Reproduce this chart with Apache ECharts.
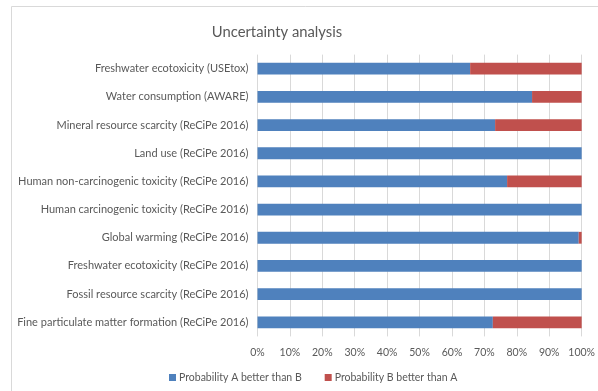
<!DOCTYPE html>
<html>
<head>
<meta charset="utf-8">
<script src="https://cdn.jsdelivr.net/npm/echarts@6/dist/echarts.min.js"></script>
<style>
  html, body { margin: 0; padding: 0; background: #fff; overflow: hidden; }
  #chart { width: 598px; height: 391px; }
</style>
</head>
<body>
<div id="chart"></div>
<script>
// Impact categories, listed top to bottom
const categories = [
  'Freshwater ecotoxicity (USEtox)',
  'Water consumption (AWARE)',
  'Mineral resource scarcity (ReCiPe 2016)',
  'Land use (ReCiPe 2016)',
  'Human non-carcinogenic toxicity (ReCiPe 2016)',
  'Human carcinogenic toxicity (ReCiPe 2016)',
  'Global warming (ReCiPe 2016)',
  'Freshwater ecotoxicity (ReCiPe 2016)',
  'Fossil resource scarcity (ReCiPe 2016)',
  'Fine particulate matter formation (ReCiPe 2016)'
];

// Share of Monte Carlo runs (%) in which each alternative wins
const probAbetterB = [65.6, 84.7, 73.3, 100, 77.0, 100, 99.1, 100, 100, 72.6];
const probBbetterA = [34.4, 15.3, 26.7, 0, 23.0, 0, 0.9, 0, 0, 27.4];

const seriesNames = ['Probability A better than B', 'Probability B better than A'];

const textColor = '#595959';
const fontFamily = 'Lato, "Open Sans", sans-serif';

const chart = echarts.init(document.getElementById('chart'), null, { renderer: 'canvas', width: 598, height: 391 });

chart.setOption({
  animation: false,
  textStyle: { fontFamily: fontFamily, color: textColor },
  graphic: [{
    type: 'rect',
    shape: { x: 11.5, y: 6.5, width: 620, height: 420 },
    style: { fill: 'none', stroke: '#d9d9d9', lineWidth: 1 },
    silent: true
  }],
  title: {
    text: 'Uncertainty analysis',
    left: 272,
    textAlign: 'center',
    top: 20,
    textStyle: { fontFamily: fontFamily, fontSize: 14.8, fontWeight: 'normal', color: textColor }
  },
  legend: {
    data: seriesNames,
    left: 169,
    top: 372,
    padding: 0,
    icon: 'rect',
    itemWidth: 7,
    itemHeight: 7,
    itemGap: 23,
    textStyle: { fontFamily: fontFamily, fontSize: 10.5, color: textColor, padding: [0, 0, 0, -2] }
  },
  grid: { left: 257.5, right: 13, top: 54.6, bottom: 54.6, containLabel: false },
  xAxis: {
    type: 'value',
    min: 0,
    max: 100,
    interval: 10,
    axisLine: { show: false },
    axisTick: { show: false },
    splitLine: { show: true, lineStyle: { color: '#d9d9d9', width: 1 } },
    axisLabel: {
      formatter: '{value}%',
      margin: 11,
      fontFamily: fontFamily,
      fontSize: 10.5,
      color: textColor
    }
  },
  yAxis: {
    type: 'category',
    data: categories,
    inverse: true,
    axisLine: { show: false },
    axisTick: { show: false },
    axisLabel: { margin: 9, fontFamily: fontFamily, fontSize: 11, color: textColor }
  },
  series: [
    {
      name: seriesNames[0],
      type: 'bar',
      stack: 'total',
      data: probAbetterB,
      barWidth: 11.8,
      itemStyle: { color: '#4f81bd' }
    },
    {
      name: seriesNames[1],
      type: 'bar',
      stack: 'total',
      data: probBbetterA,
      barWidth: 11.8,
      itemStyle: { color: '#c0504d' }
    }
  ]
});
</script>
</body>
</html>
